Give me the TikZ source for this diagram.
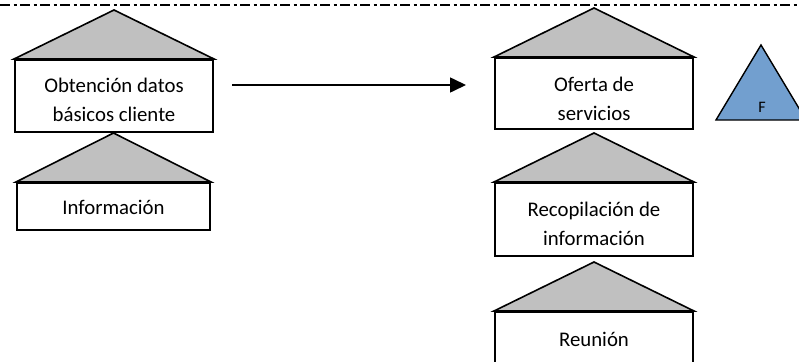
\documentclass[tikz,border=0pt]{standalone}
\usepackage{fontspec}
\setmainfont{Carlito}
\usetikzlibrary{calc,arrows.meta}
\definecolor{roofgray}{RGB}{192,192,192}
\definecolor{fblue}{RGB}{114,159,207}
\begin{document}
\begin{tikzpicture}[x=1pt,y=-1pt,
  box/.style={draw=black,line width=2pt,fill=white,anchor=north west,minimum width=198pt,inner sep=0pt},
  txt/.style={inner sep=0pt,align=center,font=\fontsize{20.8}{29}\selectfont},
  roof/.style={draw=black,fill=roofgray,line width=1.6pt,line join=miter},
  arr/.style={line width=1.6pt,-{Triangle[length=16pt,width=15pt]}},
  sepline/.style={line width=1.5pt,dash pattern=on 10pt off 3.5pt on 3pt off 3.5pt}]
\useasboundingbox (0,0) rectangle (799,361);
\clip (0,0) rectangle (799,361);
\fill[white] (0,0) rectangle (799,361);
% separator
\coordinate (s0) at (0,5);
\coordinate (s1) at (799,5);
\draw[sepline] (s0) -- (s1);
% left column
\node[box,minimum height=72pt] (b1) at (14,59) {};
\node[box,minimum height=47pt,minimum width=193pt] (b2) at (16,182) {};
% right column
\node[box,minimum height=71pt] (b3) at (494,57) {};
\node[box,minimum height=73pt] (b4) at (494,182) {};
\node[box,minimum height=56pt] (b5) at (494,311) {};
% texts
\node[txt] (t1) at ($(b1.center)+(0,4)$) {Obtención datos\\básicos cliente};
\node[txt] (t2) at ($(b2.center)+(0,1)$) {Información};
\node[txt] (t3) at ($(b3.center)+(0,5)$) {Oferta de\\servicios};
\node[txt] (t4) at ($(b4.center)+(0,4)$) {Recopilación de\\información};
\node[txt] (t5) at ($(b5.center)+(0,-1)$) {Reunión};
% roofs
\foreach \b in {b1,b2,b3,b4,b5}{
  \draw[roof] (\b.north west) -- ($(\b.north)+(0,-49)$) -- (\b.north east) -- cycle;
}
% arrow
\draw[arr] ([shift={(18,-11)}]b1.east) -- ([shift={(-28,-8.5)}]b3.west);
% triangle F
\draw[fill=fblue,line width=1.4pt,line join=miter] (716,120) -- (761,45) -- (806,120) -- cycle;
\node[font=\fontsize{16}{18}\selectfont] (f) at (762,107) {F};
\end{tikzpicture}
\end{document}
